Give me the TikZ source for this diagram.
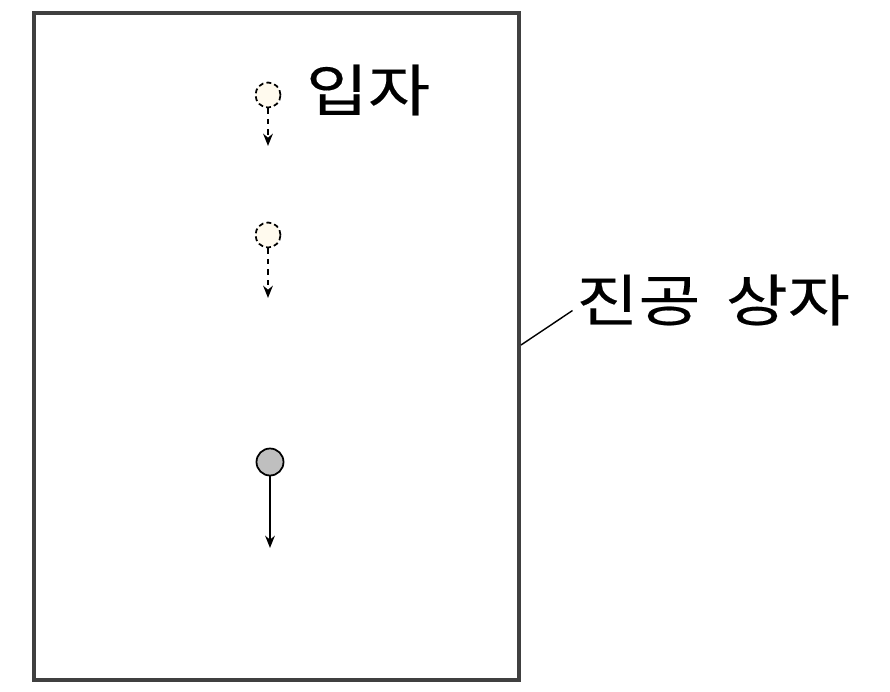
\documentclass[tikz,border=0pt]{standalone}
\usepackage{fontspec}
\newfontfamily\kr[FakeStretch=1.2,FakeBold=0.3]{Noto Sans CJK KR}
\usetikzlibrary{arrows.meta}

\begin{document}
\begin{tikzpicture}[x=0.02cm,y=-0.02cm,
  ghost/.style = {circle, draw, dashed, dash pattern=on 2.8pt off 1.8pt, fill={rgb,255:red,255;green,250;blue,238}, line width=1pt, minimum size=0.5cm, inner sep=0pt},
  ball/.style = {circle, draw, fill=black!25, line width=1pt, minimum size=0.54cm, inner sep=0pt},
  fall/.style = {-{Stealth[length=7pt,width=5.5pt]}, line width=1pt},
  label/.style = {font=\kr\fontsize{32}{36}\selectfont, inner sep=0pt}]
 \useasboundingbox (0,0) rectangle (890,691);
 % vacuum box
 \draw[line width=2.4pt, black!75] (34,13) rectangle (519,680);
 \coordinate (wall) at (521,345);
 % particles
 \node[ghost](p1) at (268,95) {};
 \coordinate (e1) at (268,146);
 \draw[fall, dashed] (p1) -- (e1);
 \node[ghost](p2) at (268,235) {};
 \coordinate (e2) at (268,298);
 \draw[fall, dashed] (p2) -- (e2);
 \node[ball](p3) at (270,462) {};
 \coordinate (e3) at (270,548);
 \draw[fall] (p3) -- (e3);
 % labels
 \node[label](particle) at (368,90) {입자};
 \node[label, anchor=west](box) at (576,300) {진공\hspace{0.45em}상자};
 \draw[line width=0.8pt] (wall) -- ([yshift=-6pt,xshift=-2pt]box.west);
\end{tikzpicture}
\end{document}
